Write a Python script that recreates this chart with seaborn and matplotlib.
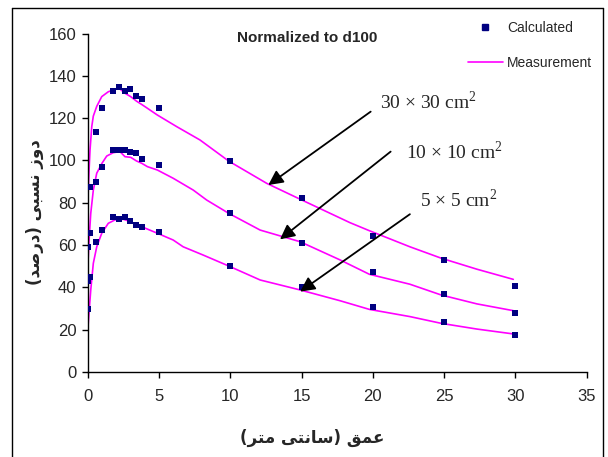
import pandas as pd
import matplotlib.pyplot as plt
import seaborn as sns
from matplotlib.lines import Line2D

# Calculated points (depth in cm, relative dose %)
calc_depth = [0, 0.2, 0.6, 1.0, 1.8, 2.2, 2.6, 3.0, 3.4, 3.8, 5, 10, 15, 20, 25, 30]
calc_30 = [59, 87.5, 113.4, 124.8, 132.7, 134.7, 132.7, 133.8, 130.3, 129.2, 124.8, 99.8, 82.2, 64.3, 53.0, 40.5]
calc_10 = [43.2, 65.9, 90.0, 97.1, 105.0, 105.0, 105.0, 104.2, 103.4, 100.6, 98.0, 75.0, 60.8, 47.4, 36.9, 28.0]
calc_5 = [29.6, 44.8, 61.6, 67.0, 73.3, 72.2, 73.3, 71.3, 69.7, 68.7, 66.0, 50.1, 40.3, 30.6, 23.5, 17.5]

# Measured curves
meas_depth_30 = [0, 0.1, 0.17, 0.29, 0.4, 0.64, 0.99, 1.45, 1.92, 2.22, 2.62, 3.02, 3.42, 3.79, 4.19,
                 4.89, 6.25, 7.88, 9.9, 12.56, 14.9, 18.4, 19.76, 22.6, 24.8, 27.3, 29.85]
meas_30 = [78, 95, 105, 116, 121, 125.6, 130.2, 132.5, 133.6, 134.1, 131.8, 130.2, 128.1, 126.5, 124.7,
           121.5, 116, 109.7, 99.7, 89.2, 81.7, 70.6, 66.8, 59.2, 53.8, 48.6, 43.8]
meas_depth_10 = [0, 0.1, 0.22, 0.4, 0.64, 1.01, 1.34, 1.8, 2.27, 2.62, 3.02, 3.42, 3.79, 4.19, 4.89,
                 6.0, 7.41, 8.35, 9.9, 12.1, 14.9, 17.7, 19.76, 22.6, 24.8, 27.3, 29.85]
meas_10 = [48, 62, 75, 86, 94, 98.7, 102.1, 103.7, 104.2, 101.8, 101.5, 99.8, 98.7, 97.1, 95.5,
           91.6, 86, 81.3, 75, 67.1, 61.6, 53, 46.2, 41.5, 36.4, 32.2, 29]
meas_depth_5 = [0, 0.22, 0.4, 0.64, 0.99, 1.45, 1.92, 2.5, 3.02, 3.42, 3.9, 4.89, 6.0, 6.7, 8.1,
                9.9, 12.1, 14.9, 17.7, 19.76, 22.6, 24.8, 27.3, 29.85]
meas_5 = [19, 38.8, 51.4, 59.2, 65.6, 70.3, 71.9, 72.2, 71.1, 69.5, 68.4, 65.6, 62.4, 59.2, 55.3,
          50.1, 43.5, 38.8, 33.7, 29.6, 26.2, 23, 20.3, 18]

field_labels = ["30 \u00d7 30 cm$^{\\mathregular{2}}$", "10 \u00d7 10 cm$^{\\mathregular{2}}$",
                "5 \u00d7 5 cm$^{\\mathregular{2}}$"]

# Persian labels, pre-shaped in visual order (matplotlib has no bidi/shaping)
xlabel_fa = "(\uFEAE\uFE98\uFEE3 \uFBFD\uFE98\uFEE7\uFE8E\uFEB3) \uFED6\uFEE4\uFECB"   # عمق (سانتی متر)
ylabel_fa = "(\uFEAA\uFEBB\uFEAD\uFEA9) \uFBFD\uFE92\uFEB4\uFEE7 \uFEAF\uFEED\uFEA9"   # دوز نسبی (درصد)

calc = pd.concat([
    pd.DataFrame({"depth": calc_depth, "dose": calc_30, "field": "30"}),
    pd.DataFrame({"depth": calc_depth, "dose": calc_10, "field": "10"}),
    pd.DataFrame({"depth": calc_depth, "dose": calc_5, "field": "5"}),
])
meas = pd.concat([
    pd.DataFrame({"depth": meas_depth_30, "dose": meas_30, "field": "30"}),
    pd.DataFrame({"depth": meas_depth_10, "dose": meas_10, "field": "10"}),
    pd.DataFrame({"depth": meas_depth_5, "dose": meas_5, "field": "5"}),
])

sns.set_style("white")
plt.rcParams['font.family'] = ['Liberation Sans', 'DejaVu Sans']

fig = plt.figure(figsize=(6.08, 4.57), dpi=100)
ax = fig.add_axes([0.1441, 0.186, 0.8209, 0.7405])

sns.lineplot(data=meas, x="depth", y="dose", units="field", estimator=None, sort=False,
             color="#FF00FF", lw=1.2, ax=ax)
sns.scatterplot(data=calc, x="depth", y="dose", marker="s", color="#000080", s=24,
                linewidth=0, ax=ax, zorder=3)

ax.set_xlim(0, 35)
ax.set_ylim(0, 160)
ax.set_xticks(range(0, 36, 5))
ax.set_yticks(range(0, 161, 20))
ax.set_xlabel("")
ax.set_ylabel("")
ax.tick_params(axis="both", direction="out", length=4, width=1, color="black",
               labelsize=12, pad=4, bottom=True, left=True)
ax.tick_params(axis="x", pad=8)
for side in ["top", "right"]:
    ax.spines[side].set_visible(False)
for side in ["left", "bottom"]:
    ax.spines[side].set_color("black")
    ax.spines[side].set_linewidth(1)

# arrows with field size labels
arrows = [((12.67, 88.4), (19.85, 123.1), (428, 102)),
          ((13.49, 62.7), (21.25, 104.2), (454, 152)),
          ((14.9, 38.0), (22.6, 74.6), (459, 200))]
for (tip, tail, txt), lab in zip(arrows, field_labels):
    ax.annotate("", xy=tip, xytext=tail,
                arrowprops=dict(arrowstyle="-|>", color="black", lw=1.3,
                                mutation_scale=22, shrinkA=0, shrinkB=0))
    fig.text(txt[0] / 608, 1 - txt[1] / 457, lab, family="Liberation Serif",
             fontsize=14, ha="center", va="center")

fig.text(307 / 608, 1 - 38 / 457, "Normalized to d100", fontsize=11,
         fontweight="bold", ha="center", va="center")

fig.text(312 / 608, 1 - 438 / 457, xlabel_fa, family="DejaVu Sans", fontsize=12,
         fontweight="bold", ha="center", va="center")
fig.text(35 / 608, 1 - 212 / 457, ylabel_fa, family="DejaVu Sans", fontsize=12,
         fontweight="bold", ha="center", va="center", rotation=90)

handles = [Line2D([], [], ls="none", marker="s", color="#000080", ms=4.5),
           Line2D([], [], color="#FF00FF", lw=1.2)]
ax.legend(handles, ["Calculated", "Measurement"], loc="upper left",
          bbox_to_anchor=(468 / 608, 1 - 21 / 457), bbox_transform=fig.transFigure,
          frameon=False, fontsize=10, handlelength=2.5, handletextpad=0.3,
          labelspacing=1.5, borderaxespad=0, borderpad=0)

# outer chart border
for xs, ys in [([12, 12], [8, 457]), ([12, 603], [8, 8]), ([603, 603], [8, 457])]:
    fig.add_artist(Line2D([x / 608 for x in xs], [1 - y / 457 for y in ys],
                          color="black", lw=1, transform=fig.transFigure))

fig.savefig("out.png", dpi=100)
